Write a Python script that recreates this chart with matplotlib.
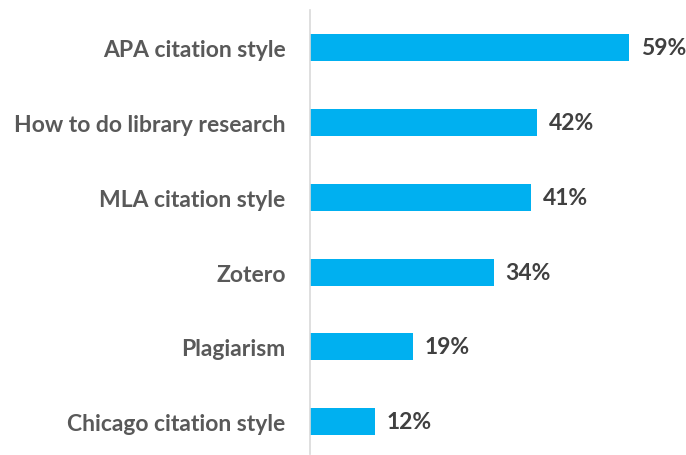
import matplotlib
matplotlib.use("Agg")
import matplotlib.pyplot as plt

# Data
topics = ["APA citation style", "How to do library research", "MLA citation style",
          "Zotero", "Plagiarism", "Chicago citation style"]
percents = [59, 42, 41, 34, 19, 12]

BAR_COLOR = "#00B0F0"
VALUE_COLOR = "#404040"
LABEL_COLOR = "#595959"

plt.rcParams["font.family"] = ["Lato", "DejaVu Sans"]

fig = plt.figure(figsize=(6.86, 4.56), dpi=100)
ax = fig.add_axes([310 / 686, 1 / 456, 376 / 686, 444 / 456])

y = list(range(len(topics)))
ax.barh(y, percents, height=0.36, color=BAR_COLOR)

# value labels right of each bar
for yi, v in zip(y, percents):
    ax.text(v + 2.2, yi, f"{v}%", va="center", ha="left",
            fontsize=16.5, fontweight="bold", color=VALUE_COLOR)

ax.set_xlim(0, 69.6)
ax.set_ylim(5.43, -0.5)
ax.set_yticks(y)
ax.set_yticklabels(topics, fontsize=16.5, fontweight="bold", color=LABEL_COLOR)
ax.tick_params(axis="y", length=0, pad=17.5)
ax.set_xticks([])

for side in ["top", "right", "bottom"]:
    ax.spines[side].set_visible(False)
ax.spines["left"].set_color("#D9D9D9")
ax.spines["left"].set_linewidth(1.2)

fig.savefig("out.png", dpi=100)
